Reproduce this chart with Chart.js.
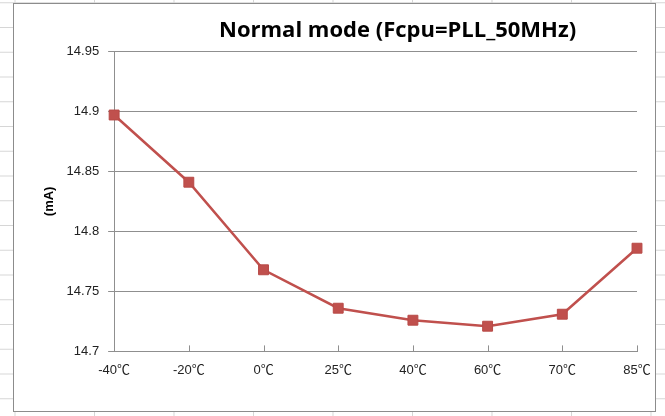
<!DOCTYPE html>
<html>
<head>
<meta charset="utf-8">
<script src="https://cdn.jsdelivr.net/npm/chart.js@4/dist/chart.umd.min.js"></script>
<style>
  html, body { margin: 0; padding: 0; }
  body {
    width: 665px; height: 416px; overflow: hidden; position: relative;
    background-color: #fff;
    background-image:
      linear-gradient(to right, #d6d6d6 1px, transparent 1px),
      linear-gradient(to bottom, #d6d6d6 1px, transparent 1px);
    background-size: 79.5px 24.75px;
    background-position: 14.5px 2.25px;
  }
  #frame {
    position: absolute; left: 13px; top: 3px; width: 641px; height: 407px;
    border: 1px solid #8c8c8c; background: #fff;
  }
  #c { position: absolute; left: 0; top: 0; }
</style>
</head>
<body>
<div id="frame"></div>
<canvas id="c" width="665" height="416"></canvas>
<script>
// ---- data ----
const categories = ['-40℃', '-20℃', '0℃', '25℃', '40℃', '60℃', '70℃', '85℃'];
const currentMA = [14.897, 14.841, 14.768, 14.736, 14.726, 14.721, 14.731, 14.786];
const yTickValues = [14.7, 14.75, 14.8, 14.85, 14.9, 14.95];
const chartTitle = 'Normal mode (Fcpu=PLL_50MHz)';
const yAxisTitle = '(mA)';

const gridColor = '#8f8f8f';
const seriesColor = '#C0504D';

// shift the title horizontally relative to plot centre (as in the original)
const titleShift = {
  id: 'titleShift',
  afterLayout(chart) {
    const t = chart.titleBlock;
    if (!t) return;
    const ca = chart.chartArea;
    const cx = (ca.left + ca.right) / 2 + 22;
    const half = (t.right - t.left) / 2;
    t.left = cx - half;
    t.right = cx + half;
  }
};

// inward tick marks on the category axis
const innerTicks = {
  id: 'innerTicks',
  beforeDatasetsDraw(chart) {
    const xs = chart.scales.x;
    const ctx = chart.ctx;
    const y0 = chart.chartArea.bottom;
    ctx.save();
    ctx.strokeStyle = gridColor;
    ctx.lineWidth = 1;
    ctx.beginPath();
    xs.ticks.forEach((t, i) => {
      const px = Math.round(xs.getPixelForTick(i)) + 0.5;
      ctx.moveTo(px, y0);
      ctx.lineTo(px, y0 - 6);
    });
    ctx.stroke();
    ctx.restore();
  }
};

new Chart(document.getElementById('c'), {
  type: 'line',
  data: {
    labels: categories,
    datasets: [{
      label: 'Current',
      data: currentMA,
      borderColor: seriesColor,
      backgroundColor: seriesColor,
      borderWidth: 2.5,
      tension: 0,
      pointStyle: 'rect',
      pointRadius: 7,
      pointBorderWidth: 1,
      pointBackgroundColor: seriesColor,
      pointBorderColor: '#b84a47'
    }]
  },
  options: {
    responsive: false,
    devicePixelRatio: 1,
    animation: false,
    layout: { padding: { left: 42, right: 28, top: 0, bottom: 27 } },
    plugins: {
      legend: { display: false },
      tooltip: { enabled: false },
      title: {
        display: true,
        text: chartTitle,
        color: '#000',
        font: { family: 'Open Sans, Liberation Sans, Arial, sans-serif', size: 22, weight: 'bold', lineHeight: 1.2 },
        padding: { top: 18, bottom: 7 }
      }
    },
    scales: {
      x: {
        type: 'category',
        offset: false,
        grid: { display: false, drawTicks: false },
        border: { display: true, color: gridColor, width: 1 },
        ticks: {
          color: '#222',
          padding: 11,
          maxRotation: 0,
          autoSkip: false,
          font: { family: 'Liberation Sans, Arial, Noto Sans CJK SC, sans-serif', size: 13 }
        }
      },
      y: {
        min: 14.7,
        max: 14.95,
        afterBuildTicks(scale) { scale.ticks = yTickValues.map(v => ({ value: v })); },
        grid: { color: gridColor, lineWidth: 1, drawTicks: true, tickLength: 6 },
        border: { display: true, color: gridColor, width: 1 },
        ticks: {
          color: '#222',
          padding: 9,
          font: { family: 'Liberation Sans, Arial, sans-serif', size: 13 },
          callback: v => String(+Number(v).toFixed(2))
        },
        title: {
          display: true,
          text: yAxisTitle,
          color: '#000',
          font: { family: 'Liberation Sans, Arial, sans-serif', size: 13, weight: 'bold' },
          padding: { top: 0, bottom: 0 }
        }
      }
    }
  },
  plugins: [titleShift, innerTicks]
});
</script>
</body>
</html>
